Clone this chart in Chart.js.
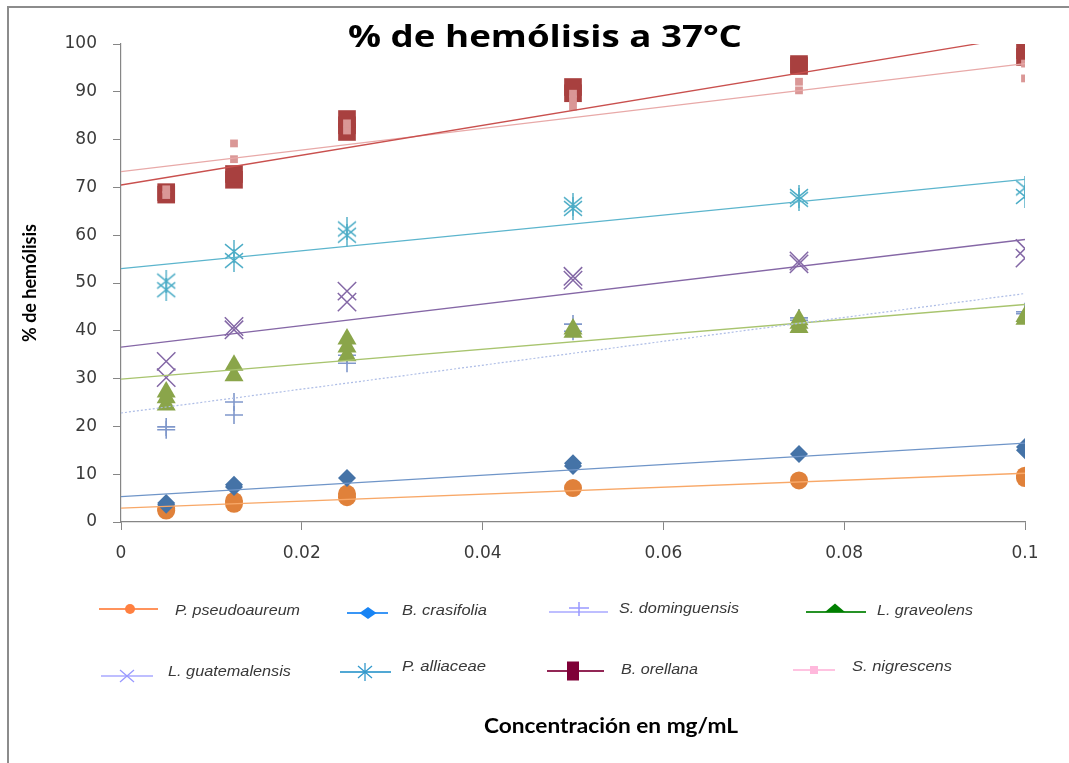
<!DOCTYPE html>
<html>
<head>
<meta charset="utf-8">
<script src="https://cdn.jsdelivr.net/npm/chart.js@4.4.1/dist/chart.umd.min.js"></script>
<style>
	html, body { margin: 0; padding: 0; background: #fff; }
</style>
</head>
<body>
<canvas id="hemolisis-chart" width="1069" height="763"></canvas>
<script>
"use strict";

const concentrations = [0.005, 0.0125, 0.025, 0.05, 0.075, 0.1];
const xTicks = [0, 0.02, 0.04, 0.06, 0.08, 0.1];
const species = ["P. pseudoaureum", "B. crasifolia", "S. dominguensis", "L. graveolens",
	"L. guatemalensis", "P. alliaceae", "B. orellana", "S. nigrescens"];

// replicates read at each concentration
const pseudoaureum = [[2.4, 2.7], [3.8, 4.4], [5.2, 5.9], [7.1], [8.7], [9.2, 9.7]];
const crasifolia = [[3.6, 4.0], [7.3, 7.8], [9.2], [11.7, 12.3], [14.2], [15.0, 15.7]];
const dominguensis = [[19.3, 19.9], [22.4, 25.1], [33.2, 34.9], [39.9, 41.4], [42.2, 42.7], [43.6, 44.0]];
const graveolens = [[24.5, 26.0, 27.2], [30.6, 32.8], [34.8, 36.6, 38.3], [39.7, 40.4], [40.7, 41.6, 42.3], [42.4, 43.0]];
const guatemalensis = [[30.2, 33.6], [40.2, 40.9], [46.0, 48.3], [50.6, 51.4], [54.0, 54.6], [55.2, 57.2]];
const alliaceae = [[48.6, 50.4], [54.7, 56.6], [60.0, 61.3], [65.6, 66.4], [67.5, 68.1], [68.1, 69.9]];
const orellana = [[68.5, 69.0], [71.6, 72.8], [81.6, 83.0, 84.3], [89.7, 91.0], [95.4, 95.8], [97.3, 98.7]];
const nigrescens = [[68.4, 69.6], [75.9, 79.2], [81.9, 83.4], [86.9, 88.4, 89.6], [90.3, 92.1], [92.8, 95.9]];

// linear trend lines: value at x = 0 and at x = 0.1
const trendStart = [2.9, 5.3, 22.8, 29.9, 36.6, 53.0, 70.5, 73.3];
const trendEnd = [10.2, 16.5, 47.8, 45.5, 59.1, 71.7, 101.7, 95.9];

const seriesValues = [pseudoaureum, crasifolia, dominguensis, graveolens, guatemalensis, alliaceae, orellana, nigrescens];

const markerColors = ["#E0813A", "#4573A7", "#8098CB", "#8AA54A", "#8468A6", "#4BACC6", "#A8403F", "#DA9796"];
const trendColors = ["#F8A868", "#6F95C8", "#AEBDE6", "#A8C46E", "#8567A6", "#5CB5CD", "#C9504E", "#E8A9A8"];
const legendColors = ["#FF8040", "#1884F4", "#9999FF", "#007F00", "#9999FF", "#3399CC", "#7F0037", "#FFB8DC"];

function makeAsterisk(w, h, color, lw) {
	const c = document.createElement("canvas");
	c.width = w;
	c.height = h;
	const g = c.getContext("2d");
	g.strokeStyle = color;
	g.lineWidth = lw;
	g.beginPath();
	g.moveTo(w / 2, 0);
	g.lineTo(w / 2, h);
	g.moveTo(1, h * 0.18);
	g.lineTo(w - 1, h * 0.82);
	g.moveTo(w - 1, h * 0.18);
	g.lineTo(1, h * 0.82);
	g.stroke();
	return c;
}

const markerStyles = ["circle", "rectRot", "cross", "triangle", "crossRot",
	makeAsterisk(20, 23, markerColors[5], 1.4), "rect", "rect"];
const markerRadii = [9, 9, 9, 11, 13, 10, 12.5, 5.5];
const markerBorders = [0, 0, 1.6, 0, 1.5, 1.4, 0, 0];

const datasets = [];
trendStart.forEach((start, i) => {
	datasets.push({
		label: species[i] + " tendencia",
		data: [{x: 0, y: start}, {x: 0.1, y: trendEnd[i]}],
		showLine: true,
		pointRadius: 0,
		borderColor: trendColors[i],
		borderWidth: i === 2 ? 1.2 : 1.3,
		borderDash: i === 2 ? [2, 2] : [],
		order: 0
	});
});
seriesValues.forEach((reps, i) => {
	datasets.push({
		label: species[i],
		data: reps.flatMap((arr, j) => arr.map(v => ({x: concentrations[j], y: v}))),
		showLine: false,
		pointStyle: markerStyles[i],
		pointRadius: markerRadii[i],
		backgroundColor: markerColors[i],
		borderColor: markerColors[i],
		borderWidth: markerBorders[i],
		order: 10 - i
	});
});

function stretchedText(ctx, text, font, x, y, width, align) {
	ctx.save();
	ctx.font = font;
	ctx.textAlign = align;
	ctx.textBaseline = "alphabetic";
	const s = width / ctx.measureText(text).width;
	ctx.translate(x, y);
	ctx.scale(s, 1);
	ctx.fillText(text, 0, 0);
	ctx.restore();
}

// frame, titles and the hand placed legend of the original
const decorations = {
	id: "decorations",
	beforeDraw(chart) {
		const ctx = chart.ctx;
		ctx.save();
		ctx.strokeStyle = "#8C8C8C";
		ctx.lineWidth = 2;
		ctx.beginPath();
		ctx.moveTo(8, 763);
		ctx.lineTo(8, 7);
		ctx.lineTo(1069, 7);
		ctx.stroke();
		ctx.restore();
	},
	afterDraw(chart) {
		const ctx = chart.ctx;
		ctx.fillStyle = "#000";
		stretchedText(ctx, "% de hemólisis a 37°C", "bold 30px 'Open Sans'", 545, 47, 394, "center");
		stretchedText(ctx, "Concentración en mg/mL", "bold 20px Lato", 611, 733, 254, "center");

		const lineX0 = [99, 347, 549, 806, 101, 340, 547, 793];
		const lineX1 = [158, 388, 608, 866, 153, 391, 604, 835];
		const lineY = [609, 613, 612, 612, 676, 672, 671, 670];
		const markX = [130, 368, 579, 835, 127, 365, 573, 814];
		const textX = [175, 402, 619, 877, 168, 402, 621, 852];
		const textY = [615, 615, 613, 615, 676, 671, 674, 671];
		const textW = [125, 85, 120, 96, 123, 84, 77, 100];

		species.forEach((name, i) => {
			const col = legendColors[i];
			const mx = markX[i], my = lineY[i];
			ctx.save();
			ctx.strokeStyle = col;
			ctx.fillStyle = col;
			ctx.globalAlpha = 0.85;
			ctx.lineWidth = (i === 2 || i === 4) ? 1.5 : 2;
			ctx.beginPath();
			ctx.moveTo(lineX0[i], my);
			ctx.lineTo(lineX1[i], my);
			ctx.stroke();
			ctx.globalAlpha = 1;
			ctx.beginPath();
			if (i === 0) {
				ctx.arc(mx, my, 5, 0, Math.PI * 2);
				ctx.fill();
			} else if (i === 1) {
				ctx.moveTo(mx - 8.5, my); ctx.lineTo(mx, my - 6); ctx.lineTo(mx + 8.5, my); ctx.lineTo(mx, my + 6);
				ctx.closePath();
				ctx.fill();
			} else if (i === 2) {
				ctx.lineWidth = 1.5;
				ctx.moveTo(mx, my - 10); ctx.lineTo(mx, my + 4);
				ctx.moveTo(mx - 10, my - 4); ctx.lineTo(mx + 10, my - 4);
				ctx.stroke();
			} else if (i === 3) {
				ctx.moveTo(mx - 10, my); ctx.lineTo(mx, my - 8.5); ctx.lineTo(mx + 10, my);
				ctx.closePath();
				ctx.fill();
			} else if (i === 4) {
				ctx.lineWidth = 1.3;
				ctx.moveTo(mx - 7, my - 6); ctx.lineTo(mx + 7, my + 6);
				ctx.moveTo(mx + 7, my - 6); ctx.lineTo(mx - 7, my + 6);
				ctx.stroke();
			} else if (i === 5) {
				ctx.lineWidth = 1.3;
				ctx.moveTo(mx, my - 9); ctx.lineTo(mx, my + 9);
				ctx.moveTo(mx - 7, my - 6); ctx.lineTo(mx + 7, my + 6);
				ctx.moveTo(mx + 7, my - 6); ctx.lineTo(mx - 7, my + 6);
				ctx.stroke();
			} else if (i === 6) {
				ctx.fillRect(mx - 6, my - 9.5, 12, 19);
			} else {
				ctx.fillRect(mx - 4, my - 4, 8, 8);
			}
			ctx.restore();

			ctx.fillStyle = "#383838";
			stretchedText(ctx, name, "italic 14px 'Liberation Sans'", textX[i], textY[i], textW[i], "left");
		});
	}
};

const ctx = document.querySelector("#hemolisis-chart").getContext("2d");
new Chart(ctx, {
	type: "scatter",
	data: { datasets: datasets },
	options: {
		responsive: false,
		animation: false,
		devicePixelRatio: 1,
		layout: { padding: { top: 44, right: 44, left: 0, bottom: 0 } },
		plugins: {
			legend: { display: false },
			tooltip: { enabled: false },
			title: { display: false }
		},
		scales: {
			x: {
				type: "linear",
				min: 0,
				max: 0.1,
				afterBuildTicks: (scale) => { scale.ticks = xTicks.map(v => ({value: v})); },
				ticks: {
					font: { family: "DejaVu Sans", size: 17 },
					color: "#3a3a3a",
					padding: 13,
					maxRotation: 0,
					callback: (v) => String(v)
				},
				grid: { drawOnChartArea: false, drawTicks: true, tickLength: 8, color: "#868686" },
				border: { color: "#868686", width: 1.2 },
				title: { display: false },
				afterFit: (scale) => { scale.height = 241; }
			},
			y: {
				min: 0,
				max: 100,
				ticks: {
					stepSize: 10,
					font: { family: "DejaVu Sans", size: 17 },
					color: "#3a3a3a",
					padding: 16
				},
				grid: { drawOnChartArea: false, drawTicks: true, tickLength: 8, color: "#868686" },
				border: { color: "#868686", width: 1.2 },
				title: {
					display: true,
					text: "% de hemólisis",
					color: "#000",
					font: { family: "Lato", size: 18, weight: "bold" },
					padding: { top: 19, bottom: 0 }
				},
				afterFit: (scale) => { scale.width = 121; }
			}
		}
	},
	plugins: [decorations]
});
</script>
</body>
</html>
